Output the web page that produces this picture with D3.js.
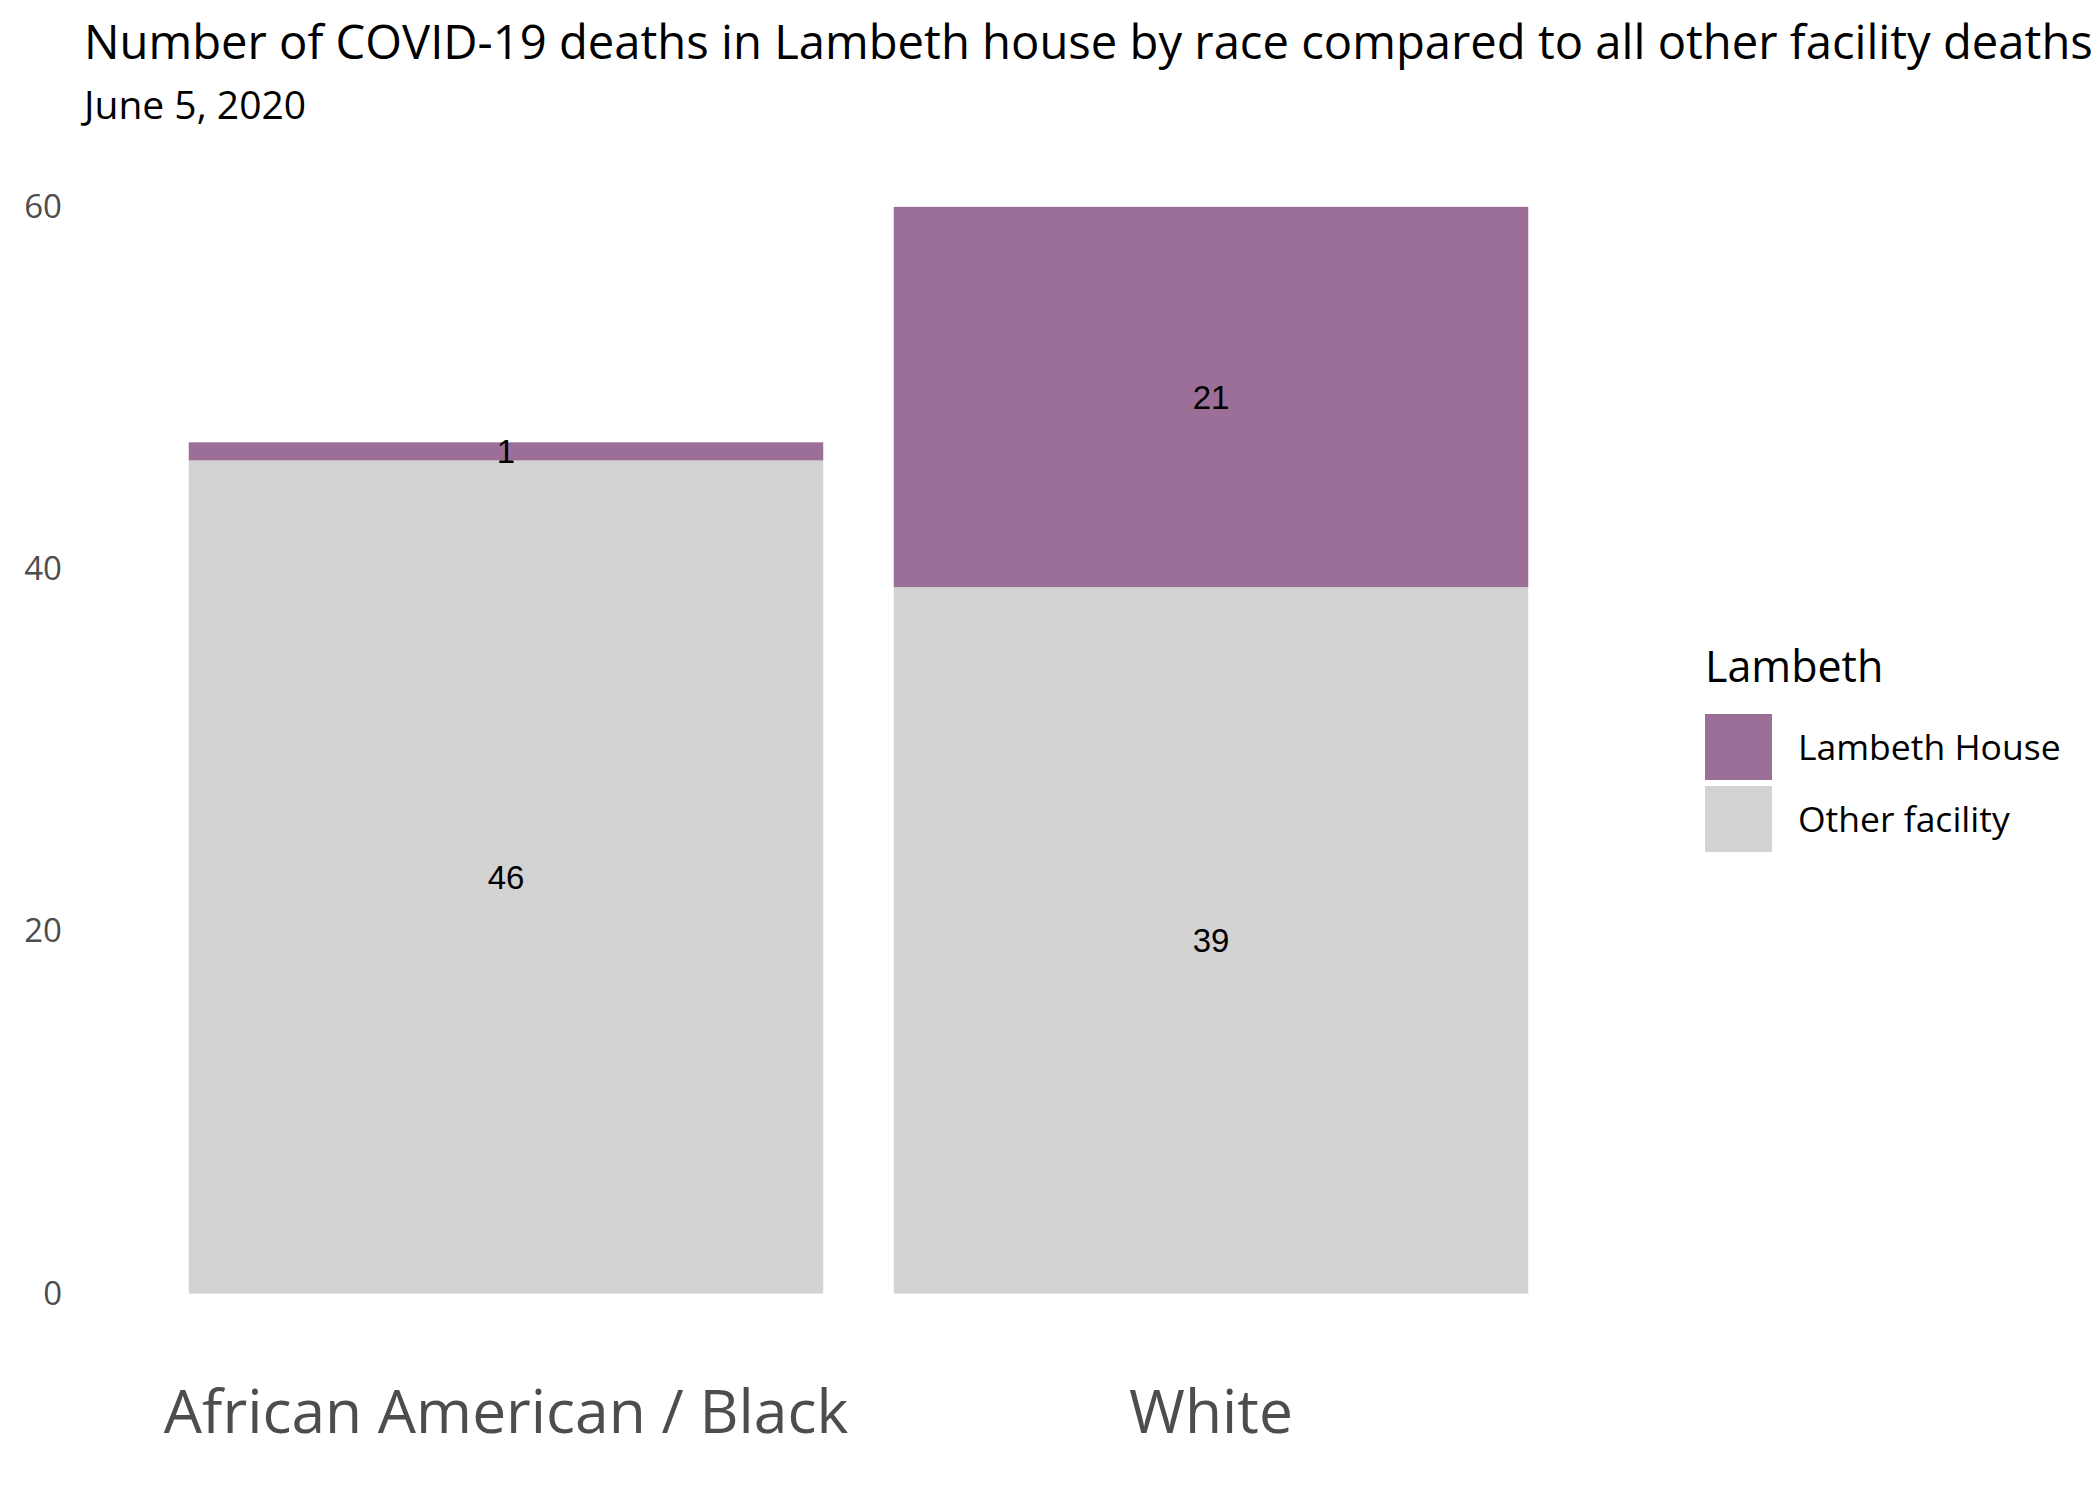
<!DOCTYPE html>
<html>
<head>
<meta charset="utf-8">
<script src="https://d3js.org/d3.v7.min.js"></script>
<style>
  body { margin: 0; background: #fff; }
  text { font-family: "Open Sans", "Noto Sans", sans-serif; }
</style>
</head>
<body>
<div id="vis"></div>
<script>
  // data
  var categories = ["African American / Black", "White"]
  var groups = ["Other facility", "Lambeth House"]   // stacking order, bottom first
  var lambethHouse = [1, 21]
  var otherFacility = [46, 39]
  var yTicks = [0, 20, 40, 60]
  var legendOrder = ["Lambeth House", "Other facility"]

  var colors = {"Lambeth House": "#9b6f97", "Other facility": "#d3d3d3"}

  var width = 2100, height = 1500
  // panel box
  var panel = {left: 83, right: 1634, top: 152.5, bottom: 1348}

  var svg = d3.select("#vis")
    .append("svg")
      .attr("width", width)
      .attr("height", height)

  // rows for the stack
  var rows = categories.map(function(c, i) {
    return {race: c, "Lambeth House": lambethHouse[i], "Other facility": otherFacility[i]}
  })
  var series = d3.stack().keys(groups)(rows)

  // scales
  var x = d3.scaleBand()
    .domain(categories)
    .range([panel.left, panel.right])
    .paddingInner(0.1)
    .paddingOuter(0.15)

  var y = d3.scaleLinear()
    .domain([-3, 63])
    .range([panel.bottom, panel.top])

  // bars
  series.forEach(function(s) {
    svg.append("g")
      .selectAll("rect")
      .data(s)
      .enter()
      .append("rect")
        .attr("x", function(d) { return x(d.data.race) })
        .attr("y", function(d) { return y(d[1]) })
        .attr("width", x.bandwidth())
        .attr("height", function(d) { return y(d[0]) - y(d[1]) })
        .attr("fill", colors[s.key])
  })

  // value labels in the middle of each segment
  series.forEach(function(s) {
    svg.append("g")
      .selectAll("text")
      .data(s)
      .enter()
      .append("text")
        .attr("x", function(d) { return x(d.data.race) + x.bandwidth() / 2 })
        .attr("y", function(d) { return y((d[0] + d[1]) / 2) })
        .attr("text-anchor", "middle")
        .attr("dy", "0.36em")
        .style("font-family", "'Liberation Sans', Arial, sans-serif")
        .style("font-size", "33px")
        .style("fill", "#000")
        .text(function(d) { return d[1] - d[0] })
  })

  // Y axis, no line, no ticks
  var yAxis = svg.append("g")
    .attr("transform", "translate(" + panel.left + ",0)")
    .call(d3.axisLeft(y).tickValues(yTicks).tickSize(0).tickPadding(21))
  yAxis.select(".domain").remove()
  yAxis.selectAll("text")
    .style("font-family", "'Open Sans', sans-serif")
    .style("font-size", "33px")
    .style("fill", "#4d4d4d")

  // X axis
  var xAxis = svg.append("g")
    .attr("transform", "translate(0," + panel.bottom + ")")
    .call(d3.axisBottom(x).tickSize(0).tickPadding(42))
  xAxis.select(".domain").remove()
  xAxis.selectAll("text")
    .style("font-family", "'Open Sans', sans-serif")
    .style("font-size", "60.5px")
    .style("fill", "#4d4d4d")

  // titles
  svg.append("text")
    .attr("x", 84)
    .attr("y", 59)
    .style("font-size", "47.2px")
    .style("fill", "#000")
    .text("Number of COVID-19 deaths in Lambeth house by race compared to all other facility deaths")

  svg.append("text")
    .attr("x", 84)
    .attr("y", 119)
    .style("font-size", "39px")
    .style("fill", "#000")
    .text("June 5, 2020")

  // legend
  var legend = svg.append("g").attr("transform", "translate(1705,0)")
  legend.append("text")
    .attr("x", 0)
    .attr("y", 682)
    .style("font-size", "43px")
    .style("fill", "#000")
    .text("Lambeth")

  var keys = legend.selectAll("g.key")
    .data(legendOrder)
    .enter()
    .append("g")
      .attr("class", "key")
      .attr("transform", function(d, i) { return "translate(0," + (714 + i * 72) + ")" })
  keys.append("rect")
    .attr("width", 67)
    .attr("height", 66)
    .attr("fill", function(d) { return colors[d] })
  keys.append("text")
    .attr("x", 93)
    .attr("y", 33)
    .attr("dy", "0.36em")
    .style("font-size", "35.5px")
    .style("fill", "#000")
    .text(function(d) { return d })
</script>
</body>
</html>
